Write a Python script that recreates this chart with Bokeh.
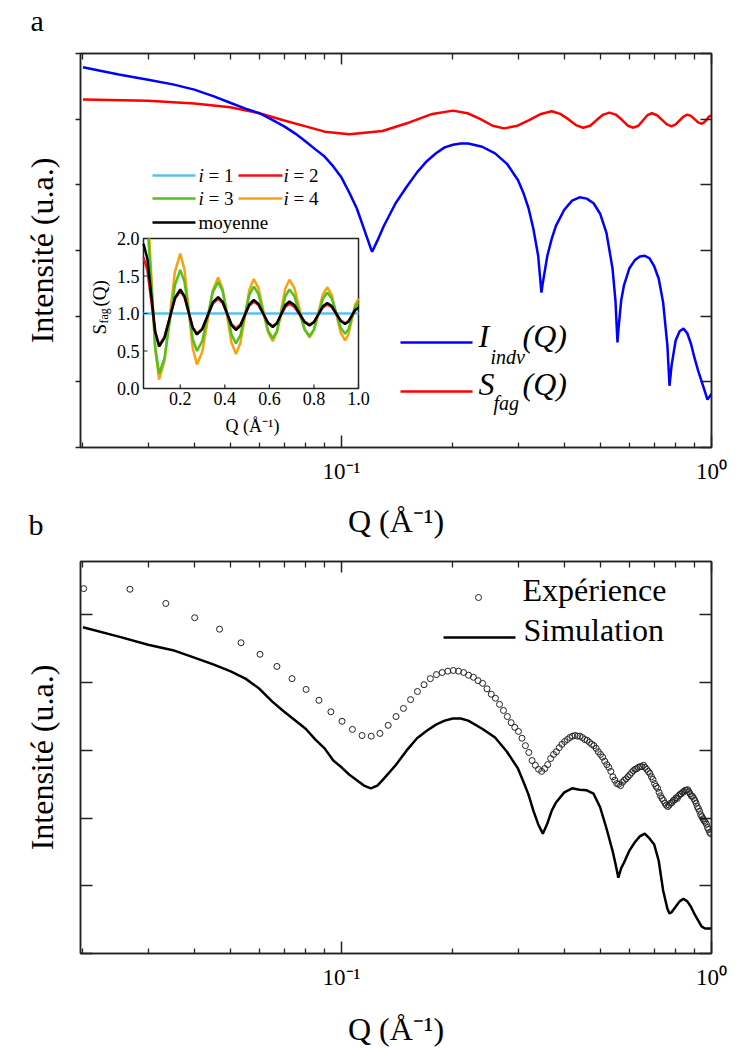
from math import pi
from bokeh.plotting import figure
from bokeh.models import (Range1d, LinearScale, LogAxis, LinearAxis, FixedTicker,
                          CustomJSTickFormatter, Label)
from bokeh.layouts import column
from bokeh.core.properties import value
from bokeh.embed import file_html
from bokeh.resources import INLINE

# ------------------------------------------------------------------ data
q_range = (0.0197, 1.0)
x_major_ticks = [0.1, 1.0]
x_minor_ticks = [0.02, 0.03, 0.04, 0.05, 0.06, 0.07, 0.08, 0.09,
                 0.2, 0.3, 0.4, 0.5, 0.6, 0.7, 0.8, 0.9]
x_tick_labels = {"0.1": "10⁻¹", "1.0": "10⁰"}
x_title = "Q (Å⁻¹)"
y_title = "Intensité (u.a.)"

# panel a : individual form factor
blue_q = [0.02, 0.025, 0.03, 0.035, 0.04, 0.045, 0.05, 0.055, 0.06, 0.065,
          0.07, 0.075, 0.08, 0.085, 0.09, 0.095, 0.1, 0.105, 0.11, 0.115,
          0.12, 0.121, 0.125, 0.13, 0.14, 0.15, 0.16, 0.17, 0.18, 0.19,
          0.2, 0.21, 0.22, 0.24, 0.26, 0.28, 0.30, 0.31, 0.32, 0.33,
          0.34, 0.347, 0.35, 0.36, 0.37, 0.38, 0.40, 0.42, 0.44, 0.46,
          0.48, 0.50, 0.52, 0.54, 0.55, 0.557, 0.56, 0.57, 0.58, 0.60,
          0.62, 0.64, 0.66, 0.68, 0.70, 0.72, 0.74, 0.76, 0.77, 0.78,
          0.80, 0.82, 0.84, 0.86, 0.88, 0.90, 0.92, 0.94, 0.96, 0.975,
          0.99, 1.0]
blue_i = [5.79, 5.68, 5.60, 5.53, 5.45, 5.35, 5.25, 5.16, 5.09, 4.99,
          4.89, 4.78, 4.66, 4.54, 4.43, 4.28, 4.11, 3.88, 3.64, 3.33,
          3.03, 2.98, 3.15, 3.37, 3.72, 3.97, 4.19, 4.36, 4.48, 4.57,
          4.61, 4.63, 4.63, 4.58, 4.48, 4.32, 4.07, 3.88, 3.65, 3.33,
          2.92, 2.36, 2.51, 2.92, 3.18, 3.38, 3.62, 3.76, 3.81, 3.79,
          3.72, 3.56, 3.27, 2.73, 2.24, 1.60, 1.78, 2.24, 2.47, 2.73,
          2.85, 2.91, 2.92, 2.88, 2.76, 2.57, 2.21, 1.55, 0.94, 1.25,
          1.63, 1.77, 1.81, 1.74, 1.58, 1.36, 1.17, 1.01, 0.85, 0.73,
          0.78, 0.82]

# panel a : structure factor of the bundle
red_q = [0.02, 0.03, 0.04, 0.05, 0.06, 0.07, 0.08, 0.09, 0.105,
         0.129, 0.1525, 0.176, 0.2, 0.219, 0.2375, 0.256, 0.275,
         0.299, 0.3225, 0.346, 0.37, 0.39, 0.41, 0.43, 0.45,
         0.47, 0.49, 0.51, 0.53, 0.551, 0.5725, 0.594, 0.615,
         0.634, 0.6525, 0.671, 0.69, 0.7125, 0.735, 0.7575, 0.78,
         0.80, 0.82, 0.84, 0.86, 0.88, 0.90, 0.92, 0.94,
         0.955, 0.97, 0.985, 1.0]
red_i = [5.30, 5.28, 5.24, 5.18, 5.09, 4.98, 4.89, 4.81, 4.77,
         4.82, 4.95, 5.08, 5.13, 5.09, 5.00, 4.90, 4.86,
         4.90, 4.99, 5.08, 5.12, 5.08, 5.00, 4.91, 4.87,
         4.90, 4.99, 5.07, 5.10, 5.07, 4.99, 4.90, 4.87,
         4.90, 4.98, 5.06, 5.09, 5.06, 4.99, 4.92, 4.89,
         4.92, 4.98, 5.04, 5.07, 5.05, 5.00, 4.95, 4.93,
         4.95, 4.99, 5.04, 5.06]

# inset : S_fag(Q) for i = 1..4 and the mean
inset_q = [0.035, 0.0525, 0.07, 0.0875, 0.105, 0.129, 0.1525, 0.176, 0.2,
           0.219, 0.2375, 0.256, 0.275, 0.299, 0.3225, 0.346, 0.37,
           0.39, 0.41, 0.43, 0.45, 0.47, 0.49, 0.51, 0.53,
           0.551, 0.5725, 0.594, 0.615, 0.634, 0.6525, 0.671, 0.69,
           0.7125, 0.735, 0.7575, 0.78, 0.80, 0.82, 0.84, 0.86,
           0.88, 0.90, 0.92, 0.94, 0.955, 0.97, 0.985, 1.0]
s_i1_q = [0.035, 1.0]
s_i1 = [1.0, 1.0]
s_i2 = [1.75, 1.579, 1.165, 0.751, 0.58, 0.685, 0.94, 1.195, 1.30,
        1.217, 1.015, 0.813, 0.73, 0.799, 0.965, 1.131, 1.20,
        1.142, 1.0, 0.858, 0.80, 0.853, 0.98, 1.107, 1.16,
        1.112, 0.995, 0.878, 0.83, 0.874, 0.98, 1.086, 1.13,
        1.089, 0.99, 0.891, 0.85, 0.889, 0.985, 1.081, 1.12,
        1.083, 0.995, 0.907, 0.87, 0.899, 0.97, 1.041, 1.07]
s_i3_q = [0.057] + inset_q[2:]
s_i3 = [2.0, 1.4, 0.55, 0.2, 0.401, 0.89, 1.379, 1.58,
        1.422, 1.04, 0.658, 0.5, 0.634, 0.96, 1.286, 1.42,
        1.30, 1.01, 0.72, 0.6, 0.711, 0.98, 1.249, 1.36,
        1.259, 1.015, 0.771, 0.67, 0.765, 0.995, 1.225, 1.32,
        1.229, 1.01, 0.791, 0.7, 0.785, 0.99, 1.195, 1.28,
        1.2, 1.005, 0.81, 0.73, 0.791, 0.94, 1.089, 1.15]
s_i4_q = [0.061] + inset_q[2:]
s_i4 = [2.0, 1.51, 0.526, 0.12, 0.365, 0.96, 1.555, 1.8,
        1.584, 1.06, 0.536, 0.32, 0.489, 0.9, 1.311, 1.48,
        1.331, 0.97, 0.609, 0.46, 0.606, 0.96, 1.314, 1.46,
        1.339, 1.045, 0.751, 0.63, 0.75, 1.04, 1.33, 1.45,
        1.338, 1.065, 0.792, 0.68, 0.778, 1.015, 1.252, 1.35,
        1.246, 0.995, 0.744, 0.64, 0.722, 0.92, 1.118, 1.2]
s_mean = [1.93, 1.73, 1.245, 0.76, 0.56, 0.671, 0.94, 1.209, 1.32,
          1.232, 1.02, 0.808, 0.72, 0.793, 0.97, 1.147, 1.22,
          1.156, 1.0, 0.844, 0.78, 0.838, 0.98, 1.122, 1.18,
          1.127, 1.0, 0.873, 0.82, 0.87, 0.99, 1.11, 1.16,
          1.113, 1.0, 0.887, 0.84, 0.884, 0.99, 1.096, 1.14,
          1.099, 1.0, 0.901, 0.86, 0.892, 0.97, 1.048, 1.08]
inset_x_ticks = [0.2, 0.4, 0.6, 0.8, 1.0]
inset_x_labels = ["0.2", "0.4", "0.6", "0.8", "1.0"]
inset_y_ticks = [0.0, 0.5, 1.0, 1.5, 2.0]
inset_y_labels = ["0.0", "0.5", "1.0", "1.5", "2.0"]

# panel b : experiment and simulation
exp_q = [0.0201, 0.0268, 0.0335, 0.0401, 0.0468, 0.0535, 0.0602, 0.0669, 0.0735, 0.0802,
         0.0869, 0.0936, 0.1003, 0.1070, 0.1136, 0.1203, 0.1270, 0.1337, 0.1404, 0.1470,
         0.1537, 0.1604, 0.1671, 0.1738, 0.1805, 0.1871, 0.1938, 0.2005, 0.2072, 0.2139,
         0.2205, 0.2272, 0.2339, 0.2406, 0.2473, 0.2540, 0.2606, 0.2673, 0.2740, 0.2807,
         0.2874, 0.2940, 0.3007, 0.3074, 0.3141, 0.3208, 0.3274, 0.3341, 0.3408, 0.3475,
         0.3542, 0.3608, 0.3675, 0.3742, 0.3809, 0.3876, 0.3942, 0.4009, 0.4076, 0.4143,
         0.4210, 0.4276, 0.4343, 0.4410, 0.4477, 0.4544, 0.4610, 0.4677, 0.4744, 0.4811,
         0.4878, 0.4944, 0.5011, 0.5078, 0.5145, 0.5212, 0.5278, 0.5345, 0.5412, 0.5479,
         0.5546, 0.5612, 0.5679, 0.5746, 0.5813, 0.5880, 0.5946, 0.6013, 0.6080, 0.6147,
         0.6214, 0.6280, 0.6347, 0.6414, 0.6481, 0.6548, 0.6614, 0.6681, 0.6748, 0.6815,
         0.6882, 0.6948, 0.7015, 0.7082, 0.7149, 0.7216, 0.7282, 0.7349, 0.7416, 0.7483,
         0.7550, 0.7616, 0.7683, 0.7750, 0.7817, 0.7884, 0.7950, 0.8017, 0.8084, 0.8151,
         0.8218, 0.8284, 0.8351, 0.8418, 0.8485, 0.8552, 0.8618, 0.8685, 0.8752, 0.8819,
         0.8886, 0.8952, 0.9019, 0.9086, 0.9153, 0.9220, 0.9286, 0.9353, 0.9420, 0.9487,
         0.9554, 0.9620, 0.9687, 0.9754, 0.9821, 0.9888, 0.9954]
exp_i = [5.39, 5.38, 5.17, 4.96, 4.79, 4.59, 4.42, 4.24, 4.06, 3.90,
         3.74, 3.57, 3.43, 3.31, 3.22, 3.21, 3.25, 3.37, 3.50, 3.62,
         3.75, 3.87, 3.97, 4.06, 4.12, 4.15, 4.17, 4.18, 4.17, 4.15,
         4.11, 4.08, 4.03, 3.99, 3.91, 3.83, 3.77, 3.68, 3.59, 3.50,
         3.41, 3.34, 3.28, 3.18, 3.07, 2.97, 2.85, 2.78, 2.72, 2.69,
         2.73, 2.79, 2.88, 2.94, 2.98, 3.04, 3.09, 3.13, 3.16, 3.19,
         3.21, 3.22, 3.21, 3.21, 3.19, 3.16, 3.15, 3.12, 3.09, 3.07,
         3.03, 2.98, 2.94, 2.90, 2.84, 2.79, 2.75, 2.69, 2.61, 2.56,
         2.51, 2.50, 2.48, 2.53, 2.56, 2.58, 2.61, 2.64, 2.67, 2.70,
         2.72, 2.73, 2.75, 2.76, 2.76, 2.78, 2.75, 2.72, 2.69, 2.66,
         2.61, 2.57, 2.51, 2.47, 2.44, 2.38, 2.33, 2.29, 2.26, 2.22,
         2.19, 2.17, 2.19, 2.22, 2.23, 2.26, 2.27, 2.30, 2.29, 2.33,
         2.35, 2.36, 2.38, 2.39, 2.41, 2.41, 2.42, 2.39, 2.36, 2.33,
         2.32, 2.29, 2.26, 2.22, 2.17, 2.14, 2.10, 2.05, 2.02, 1.99,
         1.96, 1.94, 1.91, 1.86, 1.83, 1.79, 1.77]
sim_q = [0.02, 0.025, 0.03, 0.035, 0.04, 0.045, 0.05, 0.055, 0.06, 0.065,
         0.07, 0.075, 0.08, 0.085, 0.09, 0.095, 0.1, 0.105, 0.11, 0.115,
         0.12, 0.125, 0.13, 0.14, 0.15, 0.16, 0.17, 0.18, 0.19, 0.2,
         0.21, 0.22, 0.24, 0.26, 0.28, 0.30, 0.31, 0.32, 0.33, 0.34,
         0.35, 0.36, 0.37, 0.38, 0.40, 0.42, 0.44, 0.46, 0.48, 0.50,
         0.52, 0.54, 0.55, 0.56, 0.57, 0.58, 0.60, 0.62, 0.64, 0.66,
         0.68, 0.70, 0.72, 0.74, 0.76, 0.77, 0.78, 0.80, 0.82, 0.84,
         0.86, 0.88, 0.90, 0.92, 0.94, 0.96, 0.98, 1.0]
sim_i = [4.82, 4.68, 4.56, 4.48, 4.37, 4.27, 4.17, 4.06, 3.91, 3.72,
         3.57, 3.44, 3.32, 3.16, 3.03, 2.85, 2.75, 2.64, 2.56, 2.48,
         2.44, 2.48, 2.58, 2.78, 3.00, 3.18, 3.29, 3.38, 3.44, 3.47,
         3.47, 3.44, 3.32, 3.19, 2.98, 2.73, 2.54, 2.35, 2.11, 1.91,
         1.77, 1.92, 2.11, 2.23, 2.38, 2.44, 2.42, 2.41, 2.36, 2.16,
         1.85, 1.52, 1.33, 1.12, 1.26, 1.34, 1.52, 1.64, 1.73, 1.77,
         1.70, 1.61, 1.37, 0.93, 0.66, 0.59, 0.61, 0.69, 0.77, 0.81,
         0.77, 0.69, 0.58, 0.49, 0.40, 0.37, 0.37, 0.37]

a_y_ticks = [0, 1, 2, 3, 4, 5, 6]
a_y_max = 6.0
b_y_ticks = [0, 1, 2, 3, 4, 5]
b_y_max = 5.79

# ------------------------------------------------------------------ layout / style
FONT = "Liberation Serif"
PAGE_M = 0            # Bokeh's page template removes the body margin
FIG_W = 738
FR_L, FR_R = 80, 711
A_FIG_TOP, A_TOP, A_BOT, A_FIG_END = -24, 53, 447, 545
B_FIG_TOP, B_TOP, B_BOT, B_FIG_END = 475, 561, 953, 1050
INSET_PX = (143, 358, 238, 388)      # left, right, top, bottom (page px)
INSET_X = (0.035, 1.0)
INSET_Y = (0.0, 2.0)
AX_COL = "#222222"

BLUE, RED = "#0000ff", "#ff0000"
C1, C2, C3, C4, CM = "#55c3f2", "#e8161b", "#4fc21c", "#f6a30f", "#000000"


def style_axis(ax, tin, tout, minin=0, minout=0, labels=False):
    ax.axis_line_color = AX_COL
    ax.axis_line_width = 1.5
    ax.major_tick_line_color = AX_COL
    ax.major_tick_line_width = 1.5
    ax.minor_tick_line_color = AX_COL
    ax.minor_tick_line_width = 1.3
    ax.major_tick_in = tin
    ax.major_tick_out = tout
    ax.minor_tick_in = minin
    ax.minor_tick_out = minout
    if not labels:
        ax.formatter = CustomJSTickFormatter(code="return '';")
        ax.major_label_text_font_size = "0px"
        ax.major_label_standoff = 0


def xticker():
    return FixedTicker(ticks=x_major_ticks, minor_ticks=x_minor_ticks)


def make_panel(fig_top, fig_end, top, bot, y_max, y_ticks, left_in, left_out, right_in,
               letter, letter_offset, letter_standoff, y_title_standoff, x_title_standoff):
    p = figure(width=FIG_W, height=fig_end - fig_top, x_axis_type="log",
               x_axis_location=None, y_axis_location=None,
               x_range=Range1d(*q_range), y_range=Range1d(0, y_max),
               output_backend="svg", toolbar_location=None,
               min_border_left=FR_L - PAGE_M, min_border_right=PAGE_M + FIG_W - FR_R,
               min_border_top=top - fig_top, min_border_bottom=fig_end - bot)
    p.xgrid.visible = False
    p.ygrid.visible = False
    p.outline_line_color = AX_COL
    p.outline_line_width = 1.5
    p.background_fill_color = "white"
    p.border_fill_color = "white"
    p.extra_x_ranges = {"px": Range1d(FR_L, FR_R)}
    p.extra_y_ranges = {"px": Range1d(bot, top)}
    p.extra_x_scales = {"px": LinearScale()}
    p.extra_y_scales = {"px": LinearScale()}

    p.title.text = letter
    p.title.align = "left"
    p.title.offset = letter_offset
    p.title.standoff = letter_standoff
    p.title.text_font = FONT
    p.title.text_font_size = "30px"
    p.title.text_font_style = "normal"
    p.title.text_color = "#000000"

    below = LogAxis(ticker=xticker())
    style_axis(below, 12, 0, 5, 0, labels=True)
    below.formatter = CustomJSTickFormatter(
        args=dict(lab=x_tick_labels),
        code="const k = tick.toFixed(1); return (k in lab) ? lab[k] : '';")
    below.major_label_text_font = FONT
    below.major_label_text_font_size = "23px"
    below.major_label_text_color = "#000000"
    below.major_label_standoff = 11
    below.axis_label = x_title
    below.axis_label_text_font = FONT
    below.axis_label_text_font_size = "32px"
    below.axis_label_text_font_style = "normal"
    below.axis_label_text_color = "#000000"
    below.axis_label_standoff = x_title_standoff
    p.add_layout(below, "below")

    above = LogAxis(ticker=xticker())
    style_axis(above, 11, 0, 6, 0)
    p.add_layout(above, "above")

    left = LinearAxis(ticker=FixedTicker(ticks=y_ticks))
    style_axis(left, left_in, left_out)
    left.axis_label = y_title
    left.axis_label_text_font = FONT
    left.axis_label_text_font_size = "32px"
    left.axis_label_text_font_style = "normal"
    left.axis_label_text_color = "#000000"
    left.axis_label_standoff = y_title_standoff
    p.add_layout(left, "left")

    right = LinearAxis(ticker=FixedTicker(ticks=y_ticks))
    style_axis(right, right_in, 0)
    p.add_layout(right, "right")
    return p


def lab(p, x, y, text, size, **kw):
    p.add_layout(Label(x=x, y=y, x_range_name="px", y_range_name="px", text=text,
                       text_font=FONT, text_font_size=size,
                       text_color=kw.pop("color", "#000000"), **kw))


# ------------------------------------------------------------------ panel a
pa = make_panel(A_FIG_TOP, A_FIG_END, A_TOP, A_BOT, a_y_max, a_y_ticks, 0, 5, 11,
                "a", -50, 34, 16, 16)
pa.margin = (A_FIG_TOP - PAGE_M, 0, 0, 0)

pa.line(red_q, red_i, line_color=RED, line_width=2.5)
pa.line(blue_q, blue_i, line_color=BLUE, line_width=2.5)

# inset coordinate system
il, ir, it, ib = INSET_PX
kx = (INSET_X[1] - INSET_X[0]) / (ir - il)
ky = (INSET_Y[1] - INSET_Y[0]) / (ib - it)
pa.extra_x_ranges["ix"] = Range1d(INSET_X[0] - (il - FR_L) * kx, INSET_X[1] + (FR_R - ir) * kx)
pa.extra_y_ranges["iy"] = Range1d(INSET_Y[0] - (A_BOT - ib) * ky, INSET_Y[1] + (it - A_TOP) * ky)
pa.extra_x_scales["ix"] = LinearScale()
pa.extra_y_scales["iy"] = LinearScale()
IN = dict(x_range_name="ix", y_range_name="iy")

pa.quad(left=[INSET_X[0]], right=[INSET_X[1]], bottom=[INSET_Y[0]], top=[INSET_Y[1]],
        fill_color="white", line_color=AX_COL, line_width=1.5, **IN)
pa.line(s_i1_q, s_i1, line_color=C1, line_width=2.5, **IN)
pa.line(s_i4_q, s_i4, line_color=C4, line_width=2.5, **IN)
pa.line(s_i3_q, s_i3, line_color=C3, line_width=2.5, **IN)
pa.line(inset_q, s_i2, line_color=C2, line_width=2.5, **IN)
pa.line(inset_q, s_mean, line_color=CM, line_width=2.5, **IN)
# inset ticks
pa.segment(x0=[INSET_X[0]] * len(inset_y_ticks), x1=[INSET_X[0] + 4 * kx] * len(inset_y_ticks),
           y0=inset_y_ticks, y1=inset_y_ticks, line_color=AX_COL, line_width=1.2, **IN)
pa.segment(x0=inset_x_ticks, x1=inset_x_ticks, y0=[INSET_Y[0]] * len(inset_x_ticks),
           y1=[INSET_Y[0] + 4 * ky] * len(inset_x_ticks), line_color=AX_COL, line_width=1.2, **IN)
pa.text(x=[il - 4] * len(inset_y_ticks), y=inset_y_ticks, text=inset_y_labels,
        x_range_name="px", y_range_name="iy", text_font=value(FONT), text_font_size="18px",
        text_align="right", text_baseline="middle", text_color="#000000")
pa.text(x=inset_x_ticks, y=[ib + 10] * len(inset_x_ticks), text=inset_x_labels,
        x_range_name="ix", y_range_name="px", text_font=value(FONT), text_font_size="18px",
        text_align="center", text_baseline="middle", text_color="#000000")
lab(pa, 252, 425, x_title, "18px", text_align="center", text_baseline="middle")
lab(pa, 99, 334, "S", "19px", angle=pi / 2, text_align="left", text_baseline="alphabetic")
lab(pa, 103, 323, "fag", "12px", angle=pi / 2, text_align="left", text_baseline="alphabetic")
lab(pa, 99, 306, "(Q)", "19px", angle=pi / 2, text_align="left", text_baseline="alphabetic")

# inset legend
for (x0, x1, y, col) in [(152, 195, 175, C1), (238, 282, 175, C2), (152, 195, 198, C3),
                         (238, 282, 198, C4), (152, 195, 222, CM)]:
    pa.line([x0, x1], [y, y], line_color=col, line_width=2.5, x_range_name="px", y_range_name="px")
for (x, y, n) in [(198, 175, "1"), (283, 175, "2"), (198, 198, "3"), (283, 198, "4")]:
    lab(pa, x, y, "i", "19px", text_font_style="italic", text_baseline="middle")
    lab(pa, x + 10, y, "= " + n, "19px", text_baseline="middle")
lab(pa, 198, 222, "moyenne", "19px", text_baseline="middle")

# main legend
pa.line([400, 472], [342, 342], line_color=BLUE, line_width=2.5, x_range_name="px", y_range_name="px")
pa.line([400, 472], [391, 391], line_color=RED, line_width=2.5, x_range_name="px", y_range_name="px")
lab(pa, 478, 353, "I", "32px", text_font_style="italic")
lab(pa, 490, 367, "indv", "20px", text_font_style="italic")
lab(pa, 522, 353, "(Q)", "32px", text_font_style="italic")
lab(pa, 478, 401, "S", "32px", text_font_style="italic")
lab(pa, 493, 413, "fag", "20px", text_font_style="italic")
lab(pa, 522, 401, "(Q)", "32px", text_font_style="italic")

# ------------------------------------------------------------------ panel b
pb = make_panel(B_FIG_TOP, B_FIG_END, B_TOP, B_BOT, b_y_max, b_y_ticks, 12, 0, 12,
                "b", -52, 41, 21, 18)
pb.margin = (B_FIG_TOP - A_FIG_END, 0, 0, 0)
pb.border_fill_alpha = 0.0
n = min(len(exp_q), len(exp_i))
pb.scatter(exp_q[:n], exp_i[:n], marker="circle", size=6, fill_color=None,
           line_color="#222222", line_width=1)
pb.line(sim_q, sim_i, line_color="#000000", line_width=2.5)

pb.scatter([478], [597], marker="circle", size=6, fill_color=None, line_color="#222222",
           line_width=1, x_range_name="px", y_range_name="px")
pb.line([443, 515], [637, 637], line_color="#000000", line_width=2.5,
        x_range_name="px", y_range_name="px")
lab(pb, 522, 607, "Expérience", "32px")
lab(pb, 523, 647, "Simulation", "32px")

layout = column(pa, pb, spacing=0)
open("out.html", "w").write(file_html(layout, INLINE))
